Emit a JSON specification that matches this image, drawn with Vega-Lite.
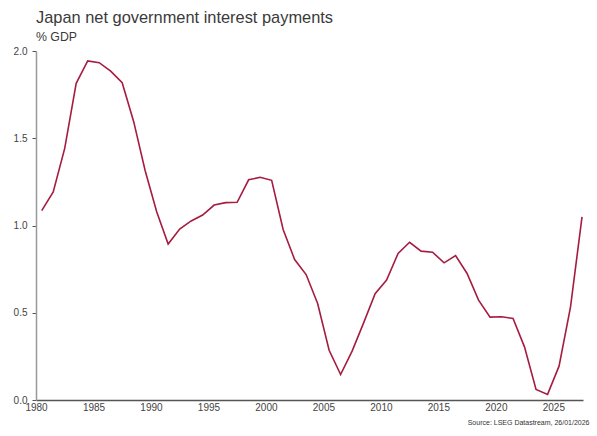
{
  "$schema": "https://vega.github.io/schema/vega-lite/v6.json",
  "width": 547,
  "height": 349,
  "autosize": "none",
  "padding": {"left": 36, "top": 51, "right": 14, "bottom": 36},
  "background": "white",
  "title": {
    "text": "Japan net government interest payments",
    "subtitle": "% GDP",
    "anchor": "start",
    "frame": "group",
    "font": "Liberation Sans",
    "fontSize": 16.4,
    "fontWeight": "normal",
    "color": "#3a3a3a",
    "subtitleFont": "Liberation Sans",
    "subtitleFontSize": 12.3,
    "subtitleColor": "#3a3a3a",
    "subtitlePadding": 4,
    "offset": 3
  },
  "config": {
    "view": {"stroke": null},
    "font": "Liberation Sans"
  },
  "data": {
    "values": [
      {"date": "1980-07-01", "v": 1.085},
      {"date": "1981-07-01", "v": 1.192},
      {"date": "1982-07-01", "v": 1.442},
      {"date": "1983-07-01", "v": 1.815},
      {"date": "1984-07-01", "v": 1.943},
      {"date": "1985-07-01", "v": 1.933},
      {"date": "1986-07-01", "v": 1.885},
      {"date": "1987-07-01", "v": 1.818},
      {"date": "1988-07-01", "v": 1.595},
      {"date": "1989-07-01", "v": 1.314},
      {"date": "1990-07-01", "v": 1.079},
      {"date": "1991-07-01", "v": 0.894},
      {"date": "1992-07-01", "v": 0.980},
      {"date": "1993-07-01", "v": 1.026},
      {"date": "1994-07-01", "v": 1.060},
      {"date": "1995-07-01", "v": 1.117},
      {"date": "1996-07-01", "v": 1.131},
      {"date": "1997-07-01", "v": 1.133},
      {"date": "1998-07-01", "v": 1.262},
      {"date": "1999-07-01", "v": 1.276},
      {"date": "2000-07-01", "v": 1.259},
      {"date": "2001-07-01", "v": 0.977},
      {"date": "2002-07-01", "v": 0.805},
      {"date": "2003-07-01", "v": 0.719},
      {"date": "2004-07-01", "v": 0.553},
      {"date": "2005-07-01", "v": 0.285},
      {"date": "2006-07-01", "v": 0.146},
      {"date": "2007-07-01", "v": 0.280},
      {"date": "2008-07-01", "v": 0.442},
      {"date": "2009-07-01", "v": 0.609},
      {"date": "2010-07-01", "v": 0.687},
      {"date": "2011-07-01", "v": 0.840},
      {"date": "2012-07-01", "v": 0.904},
      {"date": "2013-07-01", "v": 0.853},
      {"date": "2014-07-01", "v": 0.847},
      {"date": "2015-07-01", "v": 0.786},
      {"date": "2016-07-01", "v": 0.828},
      {"date": "2017-07-01", "v": 0.725},
      {"date": "2018-07-01", "v": 0.572},
      {"date": "2019-07-01", "v": 0.475},
      {"date": "2020-07-01", "v": 0.477},
      {"date": "2021-07-01", "v": 0.467},
      {"date": "2022-07-01", "v": 0.303},
      {"date": "2023-07-01", "v": 0.060},
      {"date": "2024-07-01", "v": 0.032},
      {"date": "2025-07-01", "v": 0.194},
      {"date": "2026-07-01", "v": 0.534},
      {"date": "2027-07-01", "v": 1.050}
    ]
  },
  "layer": [
    {
      "mark": {"type": "line", "color": "#a51c3f", "strokeWidth": 1.6},
      "encoding": {
        "x": {
          "field": "date",
          "type": "temporal",
          "scale": {"domain": ["1980-01-01", "2027-08-01"]},
          "axis": {
            "title": "Source: LSEG Datastream, 26/01/2026",
            "titleFontSize": 7,
            "titleFontWeight": "normal",
            "titleColor": "#333333",
            "titleAlign": "right",
            "titleAnchor": "end",
            "titleBaseline": "alphabetic",
            "titleX": 553,
            "titleY": 24,
            "format": "%Y",
            "values": ["1980-01-01", "1985-01-01", "1990-01-01", "1995-01-01", "2000-01-01", "2005-01-01", "2010-01-01", "2015-01-01", "2020-01-01", "2025-01-01"],
            "ticks": false,
            "grid": false,
            "domainColor": "#555555",
            "domainWidth": 1.5,
            "labelFontSize": 10,
            "labelColor": "#444444",
            "labelPadding": 2,
            "labelFlush": false
          }
        },
        "y": {
          "field": "v",
          "type": "quantitative",
          "scale": {"domain": [0, 2], "nice": false},
          "axis": {
            "title": null,
            "values": [0, 0.5, 1, 1.5, 2],
            "format": ".1f",
            "grid": false,
            "domainColor": "#999999",
            "domainWidth": 1.5,
            "tickColor": "#555555",
            "tickSize": 4,
            "labelFontSize": 10,
            "labelColor": "#444444",
            "labelPadding": 5
          }
        }
      }
    }
  ]
}
